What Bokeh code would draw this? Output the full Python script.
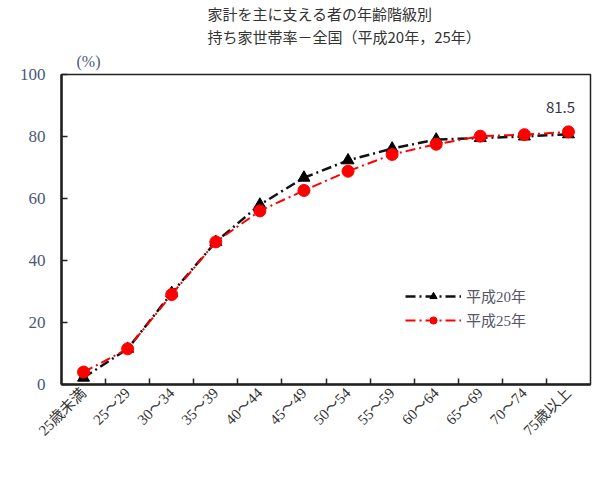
import numpy as np
from bokeh.plotting import figure
from bokeh.models import (Range1d, FixedTicker, Label, Legend, LegendItem, ColumnDataSource, Title)
from bokeh.embed import file_html
from bokeh.resources import INLINE
import math

categories = ["25歳未満", "25～29", "30～34", "35～39", "40～44", "45～49",
              "50～54", "55～59", "60～64", "65～69", "70～74", "75歳以上"]
h20 = [2.2, 11.5, 29.5, 46.0, 58.0, 66.7, 72.3, 76.1, 79.0, 79.5, 80.0, 80.7]
h25 = [4.0, 11.5, 29.0, 46.0, 56.0, 62.6, 68.8, 74.2, 77.5, 80.1, 80.6, 81.5]
y_ticks = [0, 20, 40, 60, 80, 100]
series_names = ["平成20年", "平成25年"]
title_lines = ["家計を主に支える者の年齢階級別", "持ち家世帯率－全国（平成20年，25年）"]
unit_label = "(%)"

xs = np.arange(len(categories)) + 0.5

p = figure(width=600, height=478, output_backend="svg", toolbar_location=None,
           x_range=Range1d(0, len(categories)), y_range=Range1d(0, 100),
           min_border_left=61, min_border_right=10, min_border_top=0, min_border_bottom=94)
p.title.visible = False
p.xgrid.grid_line_color = None
p.ygrid.grid_line_color = None
p.outline_line_color = "#222222"
p.outline_line_width = 1.5

serif = "Liberation Serif, Noto Sans CJK JP"

# titles stacked above the frame (first added is closest to the frame)
p.add_layout(Title(text=unit_label, align="left", offset=15, standoff=9,
                   text_font="Liberation Serif", text_font_size="16px",
                   text_font_style="normal", text_color="#4a5878"), "above")
p.add_layout(Title(text=title_lines[1], align="left", offset=146, standoff=0,
                   text_font="Noto Sans CJK JP", text_font_size="15px",
                   text_font_style="normal", text_color="#333333"), "above")
p.add_layout(Title(text=title_lines[0], align="left", offset=146, standoff=0,
                   text_font="Noto Sans CJK JP", text_font_size="15px",
                   text_font_style="normal", text_color="#333333"), "above")

# x axis
p.xaxis.ticker = FixedTicker(ticks=[float(x) for x in xs], minor_ticks=list(range(1, len(categories))))
p.xaxis.major_label_overrides = {float(x): c for x, c in zip(xs, categories)}
p.xaxis.major_tick_in = 0
p.xaxis.major_tick_out = 0
p.xaxis.minor_tick_in = 6
p.xaxis.minor_tick_out = 0
p.xaxis.minor_tick_line_color = "#222222"
p.xaxis.minor_tick_line_width = 1.5
p.xaxis.axis_line_width = 2.5
p.xaxis.axis_line_color = "#222222"
p.xaxis.major_label_orientation = math.pi / 4
p.xaxis.major_label_text_font = serif
p.xaxis.major_label_text_font_size = "15px"
p.xaxis.major_label_text_color = "#333333"
p.xaxis.major_label_standoff = 6

# y axis
p.yaxis.ticker = FixedTicker(ticks=y_ticks, minor_ticks=[])
p.yaxis.major_tick_in = 6
p.yaxis.major_tick_out = 0
p.yaxis.major_tick_line_color = "#222222"
p.yaxis.major_tick_line_width = 1.5
p.yaxis.axis_line_width = 2.5
p.yaxis.axis_line_color = "#222222"
p.yaxis.major_label_text_font = serif
p.yaxis.major_label_text_font_size = "17px"
p.yaxis.major_label_text_color = "#4a5878"
p.yaxis.major_label_standoff = 16

src = ColumnDataSource(dict(x=xs, h20=h20, h25=h25))

l20 = p.line("x", "h20", source=src, line_color="#111111", line_width=2.5, line_dash="10 4 2 4")
m20 = p.scatter("x", "h20", source=src, marker="triangle", size=12, fill_color="#000000", line_color="#000000")
l25 = p.line("x", "h25", source=src, line_color="#ff0000", line_width=2, line_dash="10 4 2 4")
m25 = p.scatter("x", "h25", source=src, marker="circle", size=12, fill_color="#ff0000", line_color="#ff0000")

legend = Legend(items=[LegendItem(label=series_names[0], renderers=[l20, m20]),
                       LegendItem(label=series_names[1], renderers=[l25, m25])],
                location=(340, 50), border_line_alpha=0, background_fill_alpha=0,
                glyph_width=56, glyph_height=18, label_text_font=serif,
                label_text_font_size="15px", label_text_color="#555566",
                spacing=3, padding=4, label_standoff=5)
p.add_layout(legend, "center")

p.add_layout(Label(x=float(xs[-1]), y=h25[-1], text=f"{h25[-1]}", text_align="center",
                   text_baseline="middle", x_offset=-8, y_offset=24,
                   text_font="Noto Sans CJK JP", text_font_size="15px",
                   text_color="#333344"))

open("out.html", "w").write(file_html(p, INLINE))
